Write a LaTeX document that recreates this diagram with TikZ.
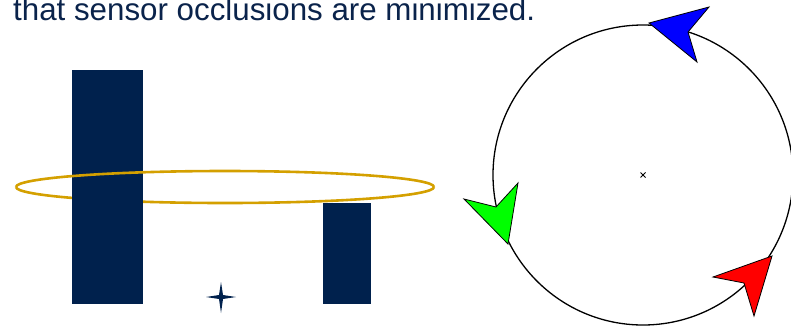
\documentclass[tikz,border=0pt]{standalone}
\usepackage{fontspec}
\setmainfont{Liberation Sans}
\definecolor{navy}{RGB}{0,33,77}
\definecolor{txtnavy}{RGB}{10,35,75}
\definecolor{gold}{RGB}{212,160,0}
\tikzset{
  bar/.style={fill=navy, draw=none},
  ring/.style={draw=gold, line width=2.6bp},
  arrowhd/.style={draw=black, line width=0.8bp, line join=miter},
}
\begin{document}
\begin{tikzpicture}[x=1bp,y=-1bp]
\useasboundingbox (0,0) rectangle (791,326);
\node[anchor=base west, inner sep=0pt, text=txtnavy, font=\fontsize{31.3bp}{36bp}\selectfont] (caption) at (13,20) {that sensor occlusions are minimized.};
% back half of ring (behind bars)
\draw[ring] (16,187) arc[start angle=180, end angle=0, x radius=209, y radius=16];
\node[bar, minimum width=71bp, minimum height=234bp, inner sep=0pt, anchor=north west] (leftbar) at (72,70) {};
\node[bar, minimum width=48bp, minimum height=101bp, inner sep=0pt, anchor=north west] (rightbar) at (323,203) {};
% front half of ring
\draw[ring] (16,187) arc[start angle=180, end angle=360, x radius=209, y radius=16];
% star
\fill[navy] (221,282) -- (223,295) -- (236,297) -- (223,299) -- (221,313) -- (219,299) -- (206,297) -- (219,295) -- cycle;
% circle
\coordinate (c) at (643,175);
\draw[black, line width=1.3bp] (c) circle[radius=150];
\draw[black, line width=0.8bp] (640.5,172.5) -- (645.5,177.5) (640.5,177.5) -- (645.5,172.5);
% arrowheads
\filldraw[arrowhd, fill=blue] (649,23) -- (709,7) -- (688,32) -- (697,62) -- cycle;
\filldraw[arrowhd, fill=green] (508,244) -- (464,199) -- (496,207) -- (518,183) -- cycle;
\filldraw[arrowhd, fill=red] (772,256) -- (754,316) -- (744,283) -- (713,277) -- cycle;
\end{tikzpicture}
\end{document}
